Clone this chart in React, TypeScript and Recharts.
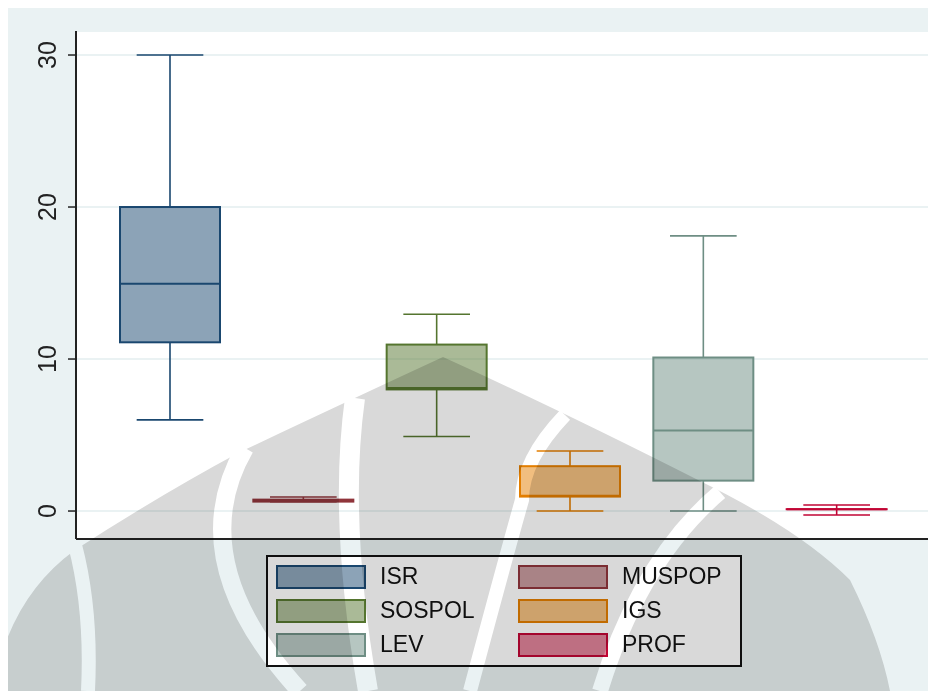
import { ComposedChart, Bar, XAxis, YAxis, CartesianGrid } from 'recharts';

// box plot summary per variable
const categories = ['ISR', 'MUSPOP', 'SOSPOL', 'IGS', 'LEV', 'PROF'];
const colors = ['#1A476F', '#90353B', '#55752F', '#E37E00', '#6E8E84', '#C10534'];
const whiskerLow = [6, 0.62, 4.9, 0, 0, -0.26];
const q1 = [11.1, 0.62, 8.0, 0.95, 2.0, 0.12];
const median = [14.95, 0.68, 8.1, 1.0, 5.3, 0.12];
const q3 = [20, 0.75, 10.95, 2.95, 10.1, 0.12];
const whiskerHigh = [30, 0.92, 12.95, 3.95, 18.1, 0.4];
const yTicks = [0, 10, 20, 30];

const BG = '#EAF2F3';
const FONT = 'Arial, "Liberation Sans", Helvetica, sans-serif';

const rows = categories.map((name, i) => ({
  name,
  color: colors[i],
  lo: whiskerLow[i],
  q1: q1[i],
  med: median[i],
  q3: q3[i],
  hi: whiskerHigh[i],
}));

function BoxShape(props: any) {
  const { x, y, width, height, payload } = props;
  const top = Math.min(y, y + height);
  const h = Math.abs(height);
  const span = payload.hi - payload.lo;
  const k = span > 0 ? h / span : 0;
  const py = (v: number) => top + (payload.hi - v) * k;
  const cx = x + width / 2;
  const capHalf = width / 3;
  const c = payload.color;
  return (
    <g>
      <line x1={cx} x2={cx} y1={py(payload.hi)} y2={py(payload.q3)} stroke={c} strokeWidth={1.6} />
      <line x1={cx} x2={cx} y1={py(payload.q1)} y2={py(payload.lo)} stroke={c} strokeWidth={1.6} />
      <line x1={cx - capHalf} x2={cx + capHalf} y1={py(payload.hi)} y2={py(payload.hi)} stroke={c} strokeWidth={1.6} />
      <line x1={cx - capHalf} x2={cx + capHalf} y1={py(payload.lo)} y2={py(payload.lo)} stroke={c} strokeWidth={1.6} />
      <rect
        x={x}
        y={py(payload.q3)}
        width={width}
        height={Math.max(py(payload.q1) - py(payload.q3), 0.01)}
        fill={c}
        fillOpacity={0.5}
        stroke={c}
        strokeWidth={2}
      />
      <line x1={x} x2={x + width} y1={py(payload.med)} y2={py(payload.med)} stroke={c} strokeWidth={2} />
    </g>
  );
}

function YTick(props: any) {
  const { x, y, payload } = props;
  const tx = x - 12;
  return (
    <text
      x={tx}
      y={y}
      transform={`rotate(-90 ${tx} ${y})`}
      textAnchor="middle"
      fontSize={25}
      fill="#222"
      fontFamily={FONT}
    >
      {payload.value}
    </text>
  );
}

// faint logo watermark lying over the lower half of the picture
function Watermark() {
  return (
    <svg
      width={936}
      height={691}
      style={{ position: 'absolute', left: -8, top: -8, mixBlendMode: 'multiply', pointerEvents: 'none' }}
    >
      <path
        d="M 0,691 L 0,660 Q 20,590 75,550 Q 160,495 240,452 Q 350,400 443,357 Q 560,410 700,481 Q 800,530 850,580 Q 880,640 890,691 Z"
        fill="#D9D9D9"
      />
      <path d="M 75,545 Q 92,610 88,691" stroke="#fff" strokeWidth={14} fill="none" />
      <path d="M 245,448 Q 180,560 300,691" stroke="#fff" strokeWidth={18} fill="none" />
      <path d="M 355,398 Q 338,520 368,691" stroke="#fff" strokeWidth={20} fill="none" />
      <path d="M 565,415 Q 522,460 522,500 Q 505,560 470,691" stroke="#fff" strokeWidth={14} fill="none" />
      <path d="M 720,492 Q 640,560 600,691" stroke="#fff" strokeWidth={16} fill="none" />
    </svg>
  );
}

function LegendBox() {
  return (
    <div
      style={{
        position: 'absolute',
        left: 258,
        top: 547,
        width: 472,
        height: 108,
        border: '2px solid #111',
        background: '#fff',
        fontFamily: FONT,
        fontSize: 23,
        color: '#111',
      }}
    >
      {rows.map((r, i) => {
        const col = i % 2;
        const row = Math.floor(i / 2);
        return (
          <div key={r.name} style={{ position: 'absolute', left: 8 + col * 242, top: 8 + row * 34 }}>
            <div
              style={{
                position: 'absolute',
                left: 0,
                top: 0,
                width: 86,
                height: 20,
                border: `2px solid ${r.color}`,
                background: r.color + '80',
              }}
            />
            <div style={{ position: 'absolute', left: 104, top: -2, lineHeight: '26px', whiteSpace: 'nowrap' }}>
              {r.name}
            </div>
          </div>
        );
      })}
    </div>
  );
}

export default function App() {
  return (
    <div style={{ position: 'relative', width: 928, height: 683, background: BG }}>
      <ComposedChart width={928} height={683} data={rows} margin={{ top: 23, right: 5, left: 0, bottom: 0 }}>
        <CartesianGrid vertical={false} horizontal fill="#fff" stroke={BG} strokeWidth={2} />
        <XAxis
          dataKey="name"
          height={152}
          tick={false}
          tickLine={false}
          padding={{ left: 27, right: 28 }}
          axisLine={{ stroke: '#222', strokeWidth: 2 }}
        />
        <YAxis
          width={68}
          domain={[-1.84, 31.58]}
          ticks={yTicks}
          allowDataOverflow
          tickSize={8}
          tickMargin={0}
          tickLine={{ stroke: '#222', strokeWidth: 1.5 }}
          tick={<YTick />}
          axisLine={{ stroke: '#222', strokeWidth: 2 }}
        />
        <Bar
          dataKey={(d: any) => [d.lo, d.hi]}
          barSize={100}
          shape={<BoxShape />}
          isAnimationActive={false}
        />
      </ComposedChart>
      <LegendBox />
      <Watermark />
    </div>
  );
}
